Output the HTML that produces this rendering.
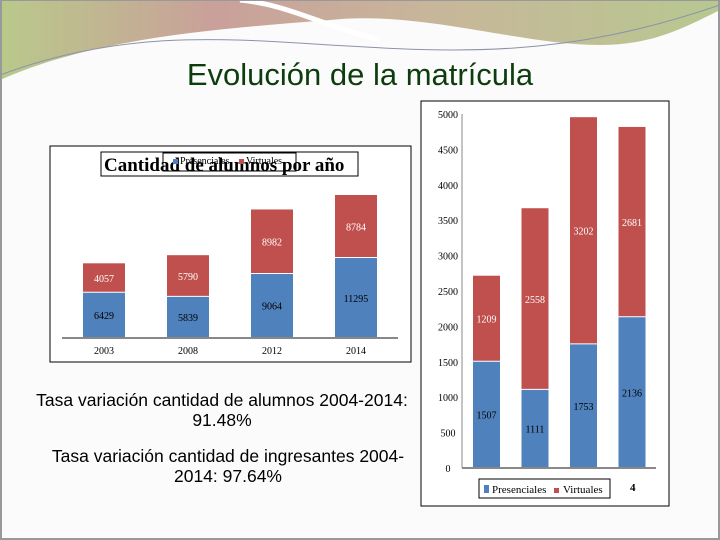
<!DOCTYPE html>
<html><head><meta charset="utf-8"><style>
html,body{margin:0;padding:0;width:720px;height:540px;overflow:hidden;background:#fbfbfb;font-family:"Liberation Sans",sans-serif}
</style></head><body>
<svg width="720" height="540" viewBox="0 0 720 540" xmlns="http://www.w3.org/2000/svg">
<defs>
<linearGradient id="g1" x1="0" y1="0" x2="1" y2="0"><stop offset="0" stop-color="#b9c98a"/><stop offset="0.3" stop-color="#c9a09a"/><stop offset="0.6" stop-color="#c8b69a"/><stop offset="1" stop-color="#b7c890"/></linearGradient>
</defs>
<rect x="0" y="0" width="720" height="540" fill="#fbfbfb"/>
<path d="M0,0 H720 V10 C680,30 650,45 600,45 C520,45 420,10 330,20 C200,30 90,40 0,80 Z" fill="url(#g1)"/>
<path d="M0,75 C120,30 220,38 330,45 C450,52 560,60 720,5" fill="none" stroke="#8c93a8" stroke-width="1"/>
<path d="M240,0 C290,5 320,25 380,40" fill="none" stroke="#fff" stroke-width="5"/>
<rect x="1" y="0" width="718" height="539" fill="none" stroke="#999" stroke-width="2"/>
<text x="360" y="85" text-anchor="middle" font-size="31" fill="#0d3d0d" font-family="Liberation Sans, sans-serif">Evolución de la matrícula</text>

<g id="left">
<rect x="50" y="146" width="361" height="216" fill="#fff" stroke="#000" stroke-width="1"/>
</g>
<rect x="101" y="152" width="257" height="24" fill="#fff" stroke="#000"/>
<text x="104" y="171" font-size="19" font-weight="bold" font-family="Liberation Serif, serif">Cantidad de alumnos por año</text>
<rect x="163" y="153" width="133" height="18" fill="none" stroke="#000"/>
<rect x="173" y="159" width="5" height="5" fill="#4f81bd"/><text x="180" y="164" font-size="10" font-family="Liberation Serif, serif">Presenciales</text>
<rect x="239" y="159" width="5" height="5" fill="#c0504d"/><text x="246" y="164" font-size="10" font-family="Liberation Serif, serif">Virtuales</text>

<g id="right">
<rect x="421" y="101" width="248" height="405" fill="#fff" stroke="#000"/>
</g>
<rect x="479" y="479" width="131" height="19" fill="#fff" stroke="#000"/>
<rect x="484" y="485" width="5" height="8" fill="#4f81bd"/><text x="492" y="493" font-size="11" font-family="Liberation Serif, serif">Presenciales</text>
<rect x="554" y="488" width="5" height="5" fill="#c0504d"/><text x="563" y="493" font-size="11" font-family="Liberation Serif, serif">Virtuales</text>
<text x="630" y="491" font-size="11" font-weight="bold" font-family="Liberation Serif, serif">4</text>

<text x="222" y="406" text-anchor="middle" font-size="17.5" fill="#000"><tspan x="222">Tasa variación cantidad de alumnos 2004-2014:</tspan><tspan x="222" dy="20">91.48%</tspan></text>
<text x="228" y="462" text-anchor="middle" font-size="17.5" fill="#000"><tspan x="228">Tasa variación cantidad de ingresantes 2004-</tspan><tspan x="228" dy="20">2014: 97.64%</tspan></text>
</svg>
<script>
const NS="http://www.w3.org/2000/svg";
// Left chart data
const leftYears=["2003","2008","2012","2014"];
const leftPres=[6429,5839,9064,11295];
const leftVirt=[4057,5790,8982,8784];
// Right chart data
const rightCats=["1","2","3","4"];
const rightPres=[1507,1111,1753,2136];
const rightVirt=[1209,2558,3202,2681];
const rightTicks=[0,500,1000,1500,2000,2500,3000,3500,4000,4500,5000];

function mk(tag,attrs,parent,text){const e=document.createElementNS(NS,tag);for(const k in attrs)e.setAttribute(k,attrs[k]);if(text!==undefined)e.textContent=text;parent.appendChild(e);return e;}
const BLUE="#4f81bd",RED="#c0504d";
// left
const L=document.getElementById('left');
const lBase=338,lScale=143/20079;
const lx=i=>83+i*84;
const ly=v=>lBase-v*lScale;
leftYears.forEach((yr,i)=>{
  const x=lx(i),w=42;
  const b=mk('rect',{x:x,y:ly(leftPres[i]),width:w,height:lBase-ly(leftPres[i]),fill:BLUE},L);
  
  
  const top=ly(leftPres[i]+leftVirt[i]);
  const r=mk('rect',{x:x,y:top,width:w,height:ly(leftPres[i])-top,fill:RED},L);
  
  
  mk('line',{x1:x,x2:x+w,y1:ly(leftPres[i]),y2:ly(leftPres[i]),stroke:"#fff","stroke-width":1},L);
  const t1=mk('text',{x:x+w/2,y:(ly(leftPres[i])+lBase)/2+4,"text-anchor":"middle","font-size":10,"font-family":"Liberation Serif, serif",fill:"#000"},L,String(leftPres[i]));
  
  
  const t2=mk('text',{x:x+w/2,y:(top+ly(leftPres[i]))/2+4,"text-anchor":"middle","font-size":10,"font-family":"Liberation Serif, serif",fill:"#fff"},L,String(leftVirt[i]));
  
  
  const tx=mk('text',{x:x+w/2,y:354,"text-anchor":"middle","font-size":10,"font-family":"Liberation Serif, serif"},L,yr);
  
  
});
const la=mk('line',{x1:62,x2:398,y1:lBase,y2:lBase,stroke:"#888","stroke-width":2},L);


// right
const R=document.getElementById('right');
const rBase=468,rScale=354/5000;
const ry=v=>rBase-v*rScale;
const rx=i=>473+i*48.5;
rightTicks.forEach(t=>{
  const e=mk('text',{x:448,y:ry(t)+4,"text-anchor":"middle","font-size":10,"font-family":"Liberation Serif, serif"},R,String(t));
  
  
});
rightCats.forEach((c,i)=>{
  const x=rx(i),w=27;
  const b=mk('rect',{x:x,y:ry(rightPres[i]),width:w,height:rBase-ry(rightPres[i]),fill:BLUE},R);
  
  
  const top=ry(rightPres[i]+rightVirt[i]);
  const r=mk('rect',{x:x,y:top,width:w,height:ry(rightPres[i])-top,fill:RED},R);
  
  
  mk('line',{x1:x,x2:x+w,y1:ry(rightPres[i]),y2:ry(rightPres[i]),stroke:"#fff","stroke-width":1},R);
  const t1=mk('text',{x:x+w/2,y:(ry(rightPres[i])+rBase)/2+4,"text-anchor":"middle","font-size":10,"font-family":"Liberation Serif, serif",fill:"#000"},R,String(rightPres[i]));
  
  
  const t2=mk('text',{x:x+w/2,y:(top+ry(rightPres[i]))/2+4,"text-anchor":"middle","font-size":10,"font-family":"Liberation Serif, serif",fill:"#fff"},R,String(rightVirt[i]));
  
  
});
const ra=mk('line',{x1:462,x2:656,y1:rBase,y2:rBase,stroke:"#888","stroke-width":2},R);


const rv=mk('line',{x1:462,x2:462,y1:114,y2:rBase,stroke:"#888","stroke-width":1},R);


</script>
</body></html>
